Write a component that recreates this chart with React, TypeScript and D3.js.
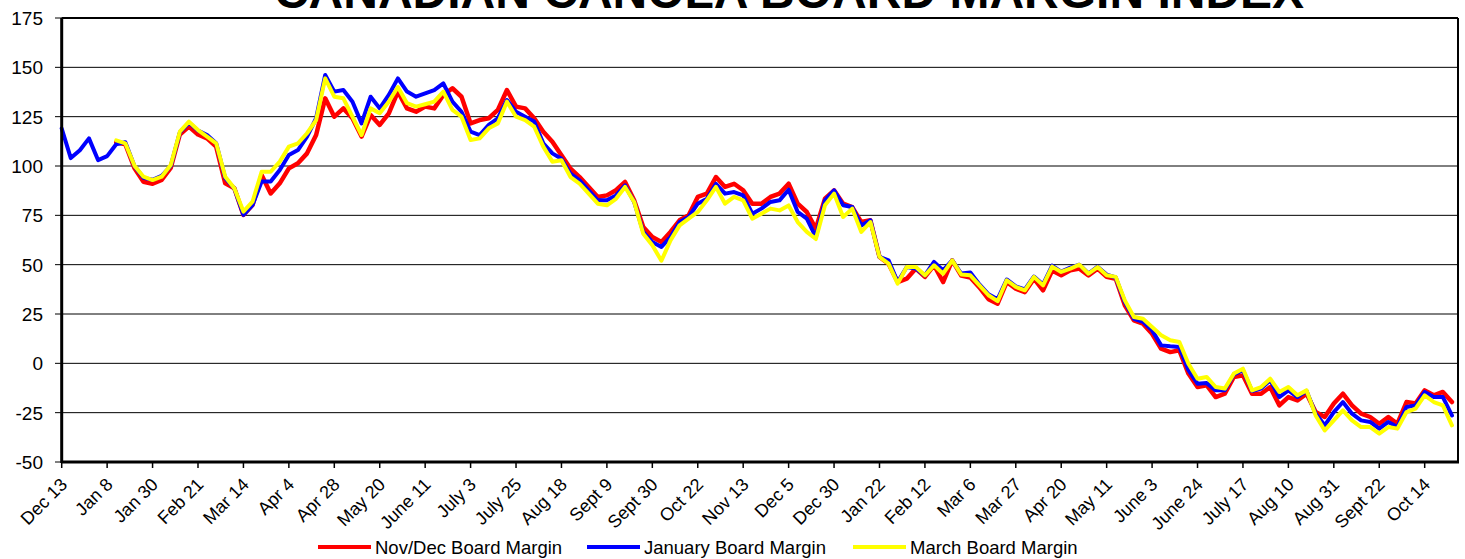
import React from "react";
import * as d3 from "d3";

// Each value = one sample every STEP trading days (category index = k * STEP)
const STEP = 3;
const TOTAL_DAYS = 461;
const TICK_EVERY = 15;

const tickLabels = [
  "Dec 13", "Jan 8", "Jan 30", "Feb 21", "Mar 14", "Apr 4", "Apr 28", "May 20",
  "June 11", "July 3", "July 25", "Aug 18", "Sept 9", "Sept 30", "Oct 22", "Nov 13",
  "Dec 5", "Dec 30", "Jan 22", "Feb 12", "Mar 6", "Mar 27", "Apr 20", "May 11",
  "June 3", "June 24", "July 17", "Aug 10", "Aug 31", "Sept 22", "Oct 14",
];

const yTicks = [-50, -25, 0, 25, 50, 75, 100, 125, 150, 175];

const N = null;

const novDec: (number | null)[] = [
  N, N, N, N, N, N, 112, 111, 99, 92, 91, 93, 99, 116, 120, 116,
  114, 109.8, 91.2, 88.7, 75.2, 80.2, 95.4, 86.1, 91.2, 98.8, 101.4, 106.4, 115.7, 134.3, 125, 129.2,
  124.2, 114.9, 125.8, 120.8, 126.7, 137.7, 129.2, 127.5, 130.1, 129.2, 136, 139.4, 135.1, 121.6, 123.3, 124.2,
  128.4, 138.5, 130.1, 129.2, 124.2, 117.4, 112.3,
  105.4, 98.6, 94.4, 89.4, 84.3, 85.1, 87.7, 91.9, 82.6, 69.1, 64, 61.5, 66.6, 72.5, 75, 84.3,
  86, 94.4, 89.4, 91, 87.7, 80.9, 80.9, 84.3, 86, 91, 80.9, 76.7, 68.2, 83.4, 87.7, 80.9,
  79.2, 71.6, 72.5, 53.9, 50.5, 41.2, 42.9, 48, 43.8, 49.7, 41.2, 52.2, 44.5, 43.5, 38.5, 32.5, 30.2,
  41.2, 37.8, 36.1, 42.9, 37, 47, 44.6, 47.1, 48, 44.6, 48, 43.8, 42.9,
  29.4, 21.8, 20.1, 15, 7.4, 5.7, 6.6, -5.2, -12, -11.1, -17.1, -15.4, -6.9, -6.1, -15.4, -15.4,
  -12, -21.3, -17.1, -18.8, -15.4, -24.7, -27.2, -20.4, -15.4, -21.3, -25.5, -27.2, -30.6, -27.2, -30.6, -19.6,
  -20.4, -13.7, -16.2, -14.5, -19.6,
];

const january: (number | null)[] = [
  119, 104, 108, 114, 103, 105, 111, 112, 100, 94, 93, 95, 100, 117, 122, 118,
  115.7, 111.5, 93.8, 88.7, 75.2, 80.2, 92.1, 92.1, 98, 105.6, 108.1, 114.9, 124.2, 146.1, 137.7, 138.5,
  132.6, 121.6, 135.1, 129.2, 136, 144.4, 137.7, 135.1, 136.8, 138.5, 141.9, 132.6, 127.5, 117.4, 115.7, 120.8,
  124.2, 133.4, 127.5, 125, 122.5, 111.5, 106.4,
  103.7, 96.1, 92.7, 87.7, 82.6, 82.6, 85.1, 90.2, 81.8, 66.6, 61.5, 59, 64, 71.6, 74.2, 80.9,
  83.4, 91, 86, 86.8, 85.1, 75.8, 78.4, 81.8, 82.6, 88, 76.7, 73.3, 64, 82.6, 87.7, 80.1,
  79.2, 69.9, 72.5, 53.9, 52.2, 41.2, 48.8, 48, 44.6, 51.4, 47.1, 52.2, 45.5, 46, 40, 35, 32.5,
  42.5, 39, 37.5, 44, 40, 49.5, 46.5, 48.5, 50, 45.5, 49, 45, 43.5,
  31.1, 22.6, 21, 16.7, 9.1, 8.6, 8.3, -3.5, -10.3, -10, -13.7, -13.7, -5.6, -3.5, -14, -12.8,
  -8.6, -17.1, -13.7, -17.1, -14, -25.5, -31.4, -24.7, -19.6, -25.5, -28.9, -29.7, -33.1, -29.7, -32.3, -22.1,
  -21.3, -14.5, -17.1, -17.1, -26.4,
];

const march: (number | null)[] = [
  N, N, N, N, N, N, 113, 111.5, 100.2, 94.6, 92.9, 94.6, 100.5, 117.4, 122.5, 118.2,
  114.9, 111.5, 94.6, 88.7, 76.9, 81.9, 97.1, 97.1, 102.2, 109.8, 111.5, 116.6, 123.3, 144.4, 135.1, 134.3,
  125, 115.7, 129.2, 126.7, 132.6, 140, 131.8, 130.1, 131.3, 132.6, 137.7, 128.4, 125, 113.2, 114, 119.1,
  121.6, 132.6, 125, 123.3, 119.9, 109.8, 102.2,
  102.9, 94.4, 91, 86, 80.9, 80.1, 83.4, 89.4, 81.8, 65.7, 59.8, 52, 62.3, 69.9, 73.3, 76.7,
  82.6, 89.4, 80.9, 84.3, 82.6, 73.3, 75.8, 78.4, 77.5, 80, 71.6, 66.6, 63, 80.1, 86, 74.2,
  78.4, 66.6, 71.6, 53.9, 50.5, 40.4, 48.8, 48.8, 44.6, 49.7, 45.4, 52.2, 45, 44.6, 39.5, 34.5, 31.5,
  42.1, 38.7, 37, 43.8, 39.5, 49, 46.3, 48, 50, 45.4, 48.8, 44.6, 43.8,
  31.9, 23.5, 22.6, 18.4, 14.2, 11.7, 10.8, -0.2, -7.8, -6.9, -12, -12.8, -5.2, -2.7, -13.7, -12,
  -7.8, -14.5, -12, -16.2, -13.7, -26.4, -34, -28.9, -23.8, -28.9, -32.3, -32.3, -35.6, -32.3, -33.1, -24.7,
  -23, -16.2, -19.6, -21.3, -31.4,
];

const seriesNames = ["Nov/Dec Board Margin", "January Board Margin", "March Board Margin"];
const seriesColors = ["#FF0000", "#0000FF", "#FFFF00"];
const seriesData = [novDec, january, march];

const FONT = "'Liberation Sans', Arial, Helvetica, sans-serif";

export default function App() {
  const W = 1465;
  const H = 559;
  const left = 61.7;
  const right = 1458;
  const top = 18;
  const bottom = 462;

  const x = d3.scaleLinear().domain([0, TOTAL_DAYS]).range([left, right]);
  const y = d3.scaleLinear().domain([-50, 175]).range([bottom, top]);

  const line = d3
    .line<number | null>()
    .defined((d) => d != null)
    .x((_, i) => x(i * STEP))
    .y((d) => y(d as number));

  const legendX = [318, 587, 853];

  return (
    <svg
      width={W}
      height={H}
      style={{ position: "absolute", left: 0, top: 0, background: "#fff" }}
      fontFamily={FONT}
    >
      <rect x={0} y={0} width={W} height={H} fill="#fff" />
      <text x={789} y={8} textAnchor="middle" fontSize={48} fontWeight="bold" fill="#000">
        CANADIAN CANOLA BOARD MARGIN INDEX
      </text>

      {/* gridlines + y ticks */}
      {yTicks.map((t) => (
        <g key={t}>
          <line x1={55} x2={right} y1={y(t)} y2={y(t)} stroke="#000" strokeWidth={1} />
          <text x={43} y={y(t)} dy="0.36em" textAnchor="end" fontSize={19} fill="#000">
            {t}
          </text>
        </g>
      ))}

      {/* plot border */}
      <line x1={right} x2={right} y1={top} y2={bottom} stroke="#000" strokeWidth={2} />
      <line x1={left} x2={right} y1={top} y2={top} stroke="#000" strokeWidth={2} />

      {/* series */}
      {seriesData.map((s, i) => (
        <path
          key={i}
          d={line(s) || ""}
          fill="none"
          stroke={seriesColors[i]}
          strokeWidth={i === 0 ? 4.5 : 4}
          strokeLinejoin="round"
          strokeLinecap="round"
        />
      ))}

      {/* axes */}
      <line x1={left} x2={left} y1={top} y2={bottom + 1} stroke="#000" strokeWidth={3} />
      <line x1={left} x2={right + 1} y1={bottom} y2={bottom} stroke="#000" strokeWidth={3} />

      {/* x ticks and labels */}
      {tickLabels.map((lab, j) => {
        const tx = x(j * TICK_EVERY);
        return (
          <g key={lab + j}>
            <line x1={tx} x2={tx} y1={bottom} y2={bottom + 6} stroke="#000" strokeWidth={1.5} />
            <text
              transform={`translate(${tx + 2},${bottom + 19}) rotate(-45)`}
              textAnchor="end"
              dy="0.36em"
              fontSize={18}
              fill="#000"
            >
              {lab}
            </text>
          </g>
        );
      })}

      {/* legend */}
      {seriesNames.map((name, i) => (
        <g key={name}>
          <line
            x1={legendX[i]}
            x2={legendX[i] + 53}
            y1={547}
            y2={547}
            stroke={seriesColors[i]}
            strokeWidth={4}
          />
          <text x={legendX[i] + 57} y={547} dy="0.36em" fontSize={18.5} fill="#000">
            {name}
          </text>
        </g>
      ))}
    </svg>
  );
}
